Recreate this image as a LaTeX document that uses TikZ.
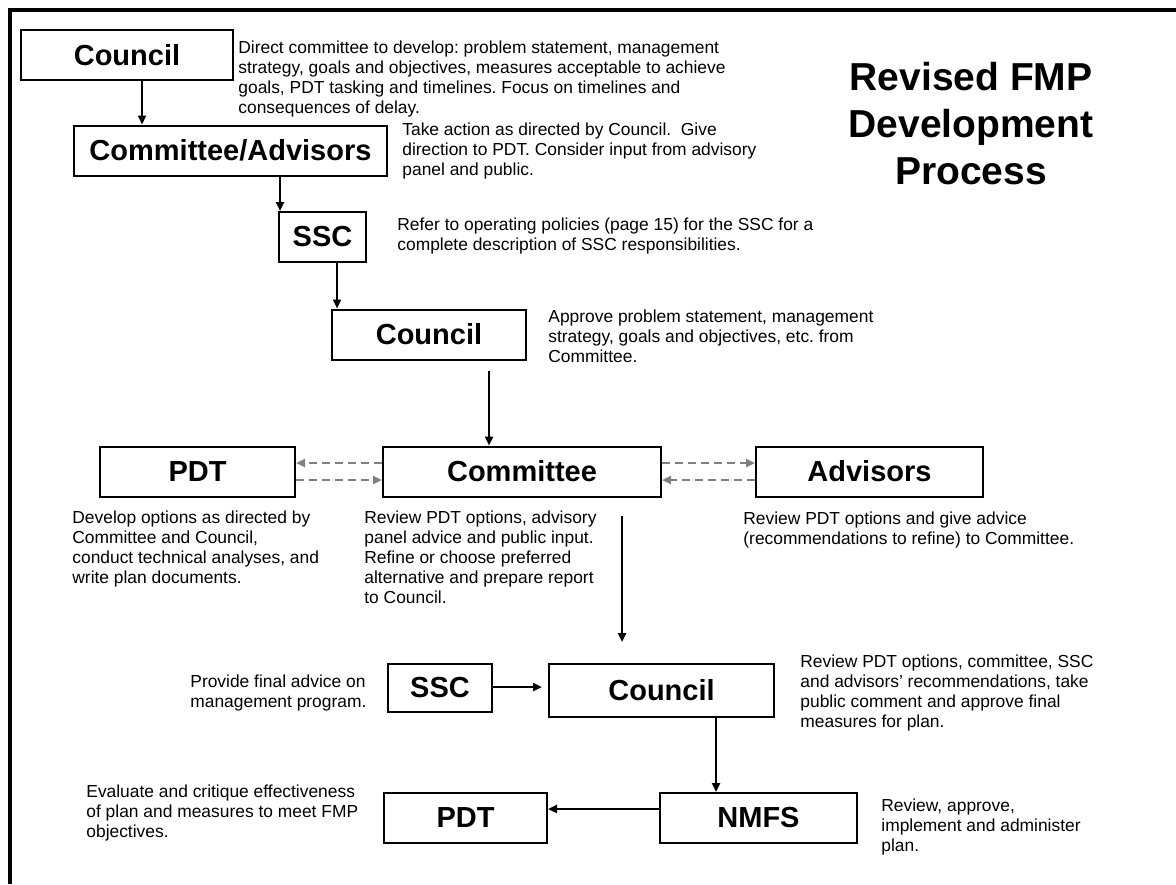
\documentclass[tikz,border=0pt]{standalone}
\usepackage{fontspec}
\setmainfont{Liberation Sans}
\usepackage{tikz}
\usetikzlibrary{arrows.meta}
\usepackage{xcolor}

\newcommand\boxfont{\fontsize{14.5}{17}\selectfont\bfseries}
\newcommand\notefont{\fontsize{8.7}{10}\selectfont}
\newcommand\titlefont{\fontsize{19.5}{23.5}\selectfont\bfseries}

\tikzset{
  box/.style={draw, line width=1pt, minimum height=25pt, inner sep=0pt, font=\boxfont},
  note/.style={anchor=north west, align=left, inner sep=0pt, font=\notefont},
  arr/.style={-{Triangle[length=4.5pt,width=4pt]}, line width=1.1pt},
  dsh/.style={arr, draw=gray, dash pattern=on 4pt off 2.5pt}
}

\begin{document}
\frenchspacing
\begin{tikzpicture}[x=0.5pt, y=-0.5pt]
        \useasboundingbox (0,0) rectangle (1176,884);
        \draw[line width=2pt] (10,884) -- (10,10) -- (1176,10);

        % boxes
        \node[box, minimum width=106pt] (c1) at (127,55) {Council};
        \node[box, minimum width=156.5pt] (ca) at (230.5,150.5) {Committee/Advisors};
        \node[box, minimum width=43.5pt] (ssc1) at (322.5,237) {SSC};
        \node[box, minimum width=97pt] (c2) at (429,334.5) {Council};
        \node[box, minimum width=97.5pt] (pdt1) at (197.5,471.5) {PDT};
        \node[box, minimum width=139pt] (com) at (522,471.5) {Committee};
        \node[box, minimum width=113.5pt] (adv) at (869.5,471.5) {Advisors};
        \node[box, minimum width=52pt, minimum height=24pt] (ssc2) at (440,688) {SSC};
        \node[box, minimum width=112.5pt, minimum height=26.5pt] (c3) at (661.5,690.5) {Council};
        \node[box, minimum width=81.5pt] (pdt2) at (465.5,818) {PDT};
        \node[box, minimum width=98.5pt] (nmfs) at (758.5,818) {NMFS};

        % title
        \node[anchor=north, align=center, inner sep=0pt, font=\titlefont] (title) at (971,62)
          {Revised FMP\\Development\\Process};

        % notes
        \node[note] (c1note) at (238,40) {Direct committee to develop: problem statement, management\\
          strategy, goals and objectives, measures acceptable to achieve\\
          goals, PDT tasking and timelines. Focus on timelines and\\
          consequences of delay.};
        \node[note] (canote) at (402,122) {Take action as directed by Council.\ \ Give\\
          direction to PDT. Consider input from advisory\\
          panel and public.};
        \node[note] (ssc1note) at (397,217) {Refer to operating policies (page 15) for the SSC for a\\
          complete description of SSC responsibilities.};
        \node[note] (c2note) at (548,309) {Approve problem statement, management\\
          strategy, goals and objectives, etc. from\\
          Committee.};
        \node[note] (pdt1note) at (72,510) {Develop options as directed by\\
          Committee and Council,\\
          conduct technical analyses, and\\
          write plan documents.};
        \node[note] (comnote) at (364,510) {Review PDT options, advisory\\
          panel advice and public input.\\
          Refine or choose preferred\\
          alternative and prepare report\\
          to Council.};
        \node[note] (advnote) at (743,511) {Review PDT options and give advice\\
          (recommendations to refine) to Committee.};
        \node[note] (ssc2note) at (190,674) {Provide final advice on\\
          management program.};
        \node[note] (c3note) at (800,654) {Review PDT options, committee, SSC\\
          and advisors' recommendations, take\\
          public comment and approve final\\
          measures for plan.};
        \node[note] (pdt2note) at (86,784) {Evaluate and critique effectiveness\\
          of plan and measures to meet FMP\\
          objectives.};
        \node[note] (nmfsnote) at (881,798) {Review, approve,\\
          implement and administer\\
          plan.};

        % arrows
        \draw[arr] (c1.south -| 142,0) -- (ca.north -| 142,0);
        \draw[arr] (ca.south -| 280,0) -- (ssc1.north -| 280,0);
        \draw[arr] (ssc1.south -| 337,0) -- (c2.north -| 337,0);
        \draw[arr, shorten <=5pt] (c2.south -| 489,0) -- (com.north -| 489,0);
        \draw[arr, shorten <=9pt, shorten >=10.5pt] (com.south -| 622,0) -- (c3.north -| 622,0);
        \draw[arr, shorten >=3pt] (ssc2.east |- 0,687) -- (c3.west |- 0,687);
        \draw[arr] (c3.south -| 716,0) -- (nmfs.north -| 716,0);
        \draw[arr] (nmfs.west |- 0,809) -- (pdt2.east |- 0,809);

        % dashed exchanges
        \draw[dsh] (com.west |- 0,463) -- (pdt1.east |- 0,463);
        \draw[dsh] (pdt1.east |- 0,480) -- (com.west |- 0,480);
        \draw[dsh] (com.east |- 0,463) -- (adv.west |- 0,463);
        \draw[dsh] (adv.west |- 0,480) -- (com.east |- 0,480);
    \end{tikzpicture}
\end{document}
